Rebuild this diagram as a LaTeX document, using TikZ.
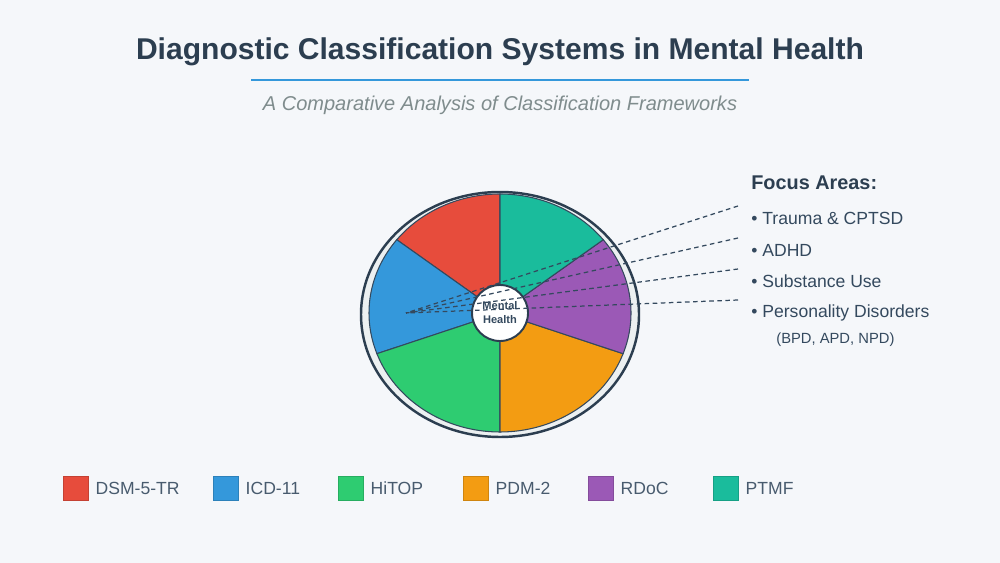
\documentclass[tikz,border=0pt]{standalone}
\usepackage{fontspec}
\setmainfont{Liberation Sans}
\usetikzlibrary{positioning}

\definecolor{bg}{HTML}{F5F7FA}
\definecolor{ink}{HTML}{2C3E50}
\definecolor{soft}{HTML}{34495E}
\definecolor{grey}{HTML}{7F8C8D}
\definecolor{rim}{HTML}{ECF0F1}
\definecolor{dsm}{HTML}{E74C3C}
\definecolor{icd}{HTML}{3498DB}
\definecolor{hitop}{HTML}{2ECC71}
\definecolor{pdm}{HTML}{F39C12}
\definecolor{rdoc}{HTML}{9B59B6}
\definecolor{ptmf}{HTML}{1ABC9C}

\tikzset{
  item/.style={anchor=west, inner sep=0pt, text=soft, font=\fontsize{10}{12}\selectfont},
  key/.style={minimum width=25*0.02cm, minimum height=24*0.02cm, inner sep=0pt, anchor=north west},
  keytext/.style={anchor=west, inner sep=0pt, text=soft!90, font=\fontsize{10}{12}\selectfont},
  link/.style={draw=soft, dashed, dash pattern=on 2.6pt off 2pt, line width=0.7pt}
}

\begin{document}
\begin{tikzpicture}[x=0.02cm, y=0.02cm]
\fill [bg] (0,0) rectangle (1000,-563);
\useasboundingbox (0,0) rectangle (1000,-563);
% heading
\node (title) at (500,-52) [text=ink, font=\bfseries\fontsize{17.1}{20}\selectfont] {Diagnostic Classification Systems in Mental Health};
\draw [icd, line width=1.7pt] (251,-80) -- (749,-80);
\node (sub) at (500,-105) [text=grey, font=\itshape\fontsize{11.4}{13}\selectfont] {A Comparative Analysis of Classification Frameworks};
% wheel
\coordinate (pc) at (500,-313);
\draw [ink, fill=rim, line width=1.4pt] (500,-314.5) ellipse (139 and 122.5);
\foreach \a/\b/\c in {90/142/dsm, 142/200/icd, 200/270/hitop, 270/340/pdm, 340/398/rdoc, 38/90/ptmf}
  \filldraw [fill=\c, draw=soft, line width=0.6pt] (pc) -- ++(\a:131 and 119) arc [start angle=\a, end angle=\b, x radius=131, y radius=119] -- cycle;
\node (mh) at (pc) [circle, minimum size=56*0.02cm, fill=white, draw=ink, line width=1.1pt] {};
% focus areas
\node (focus) at (751,-183) [anchor=west, inner sep=0pt, text=ink, font=\bfseries\fontsize{11.3}{13}\selectfont] {Focus Areas:};
\node (f1) at (751,-218) [item] {• Trauma \& CPTSD};
\node (f2) at (751,-250) [item] {• ADHD};
\node (f3) at (751,-281) [item] {• Substance Use};
\node (f4) at (751,-313) [item] {• Personality Disorders};
\node (f5) at (776,-340) [item, font=\fontsize{8.4}{10}\selectfont] {(BPD, APD, NPD)};
\coordinate (hub) at (406,-313);
\coordinate (e1) at (738,-206);
\coordinate (e2) at (738,-238);
\coordinate (e3) at (738,-269);
\coordinate (e4) at (738,-300);
\foreach \e in {e1,e2,e3,e4}
  \draw [link] (\e) -- (hub);
\node (mhtext) at (pc) [align=center, text=soft, font=\bfseries\fontsize{6.3}{8}\selectfont] {Mental\\Health};
% legend
\foreach \x/\c/\t in {63/dsm/DSM-5-TR, 213/icd/ICD-11, 338/hitop/HiTOP, 463/pdm/PDM-2, 588/rdoc/RDoC, 713/ptmf/PTMF} {
  \node (k\c) at (\x,-476) [key, fill=\c, draw=\c!85!black, line width=0.2pt] {};
  \node (t\c) [keytext, right=7*0.02cm of k\c] {\t};
}
\end{tikzpicture}
\end{document}
